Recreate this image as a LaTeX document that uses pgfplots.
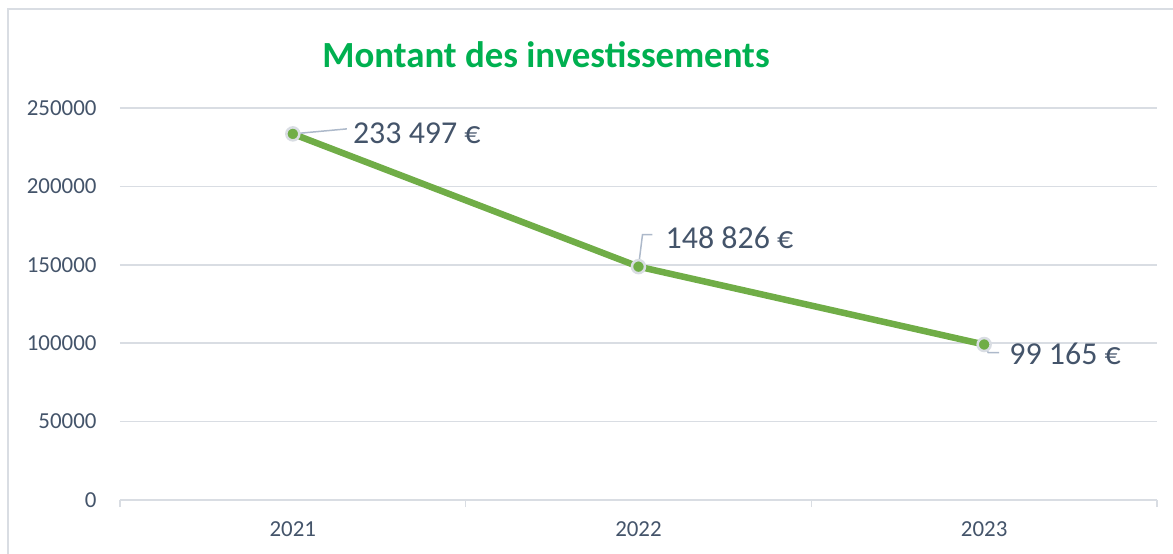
\documentclass[border=0pt]{standalone}
\usepackage{fontspec}
\setmainfont{Carlito}
\usepackage{pgfplots}
\pgfplotsset{compat=1.18}
\usepackage{pgfplotstable}
\definecolor{txt}{HTML}{44546A}
\definecolor{gridc}{HTML}{D9DDE3}
\definecolor{linec}{HTML}{70AD47}
\definecolor{titlec}{HTML}{00B050}
\definecolor{leader}{HTML}{ADB9CA}

\pgfplotstableread{
x y dx dy lab
0 233497 59 1 {233 497 €}
1 148826 26 29 {148 826 €}
2 99165 24 -9 {99 165 €}
}\invest

\begin{document}
\begin{tikzpicture}
\begin{axis}[
    at={(0,0)}, anchor=south west,
    scale only axis,
    width=1037bp, height=392bp,
    xmin=-0.5, xmax=2.5,
    ymin=0, ymax=250000,
    axis x line*=bottom, axis y line*=left,
    x axis line style={draw=gridc, line width=1.5bp},
    y axis line style={draw=none},
    xtick={0,1,2},
    xticklabels={2021,2022,2023},
    minor xtick={-0.5,0.5,1.5,2.5},
    major tick length=0pt,
    minor tick length=7bp,
    tick align=outside,
    minor tick style={draw=gridc, line width=1.5bp},
    ytick={0,50000,...,250000},
    scaled y ticks=false,
    ymajorgrids,
    grid style={draw=gridc, line width=1.5bp},
    major grid style={draw=gridc, line width=1.5bp},
    tick label style={font=\fontsize{23}{27}\selectfont, text=txt},
    /pgf/number format/assume math mode=true,
    /pgf/number format/fixed,
    /pgf/number format/1000 sep={},
    yticklabel style={xshift=-20bp},
    xticklabel style={yshift=-18bp},
    clip=false,
]
\addplot[
    color=linec, line width=6.5bp,
    mark=*, mark size=6.5bp,
    mark options={fill=linec, draw=gridc, line width=2.5bp},
    nodes near coords,
    point meta=explicit symbolic,
    visualization depends on={\thisrow{dx}\as\dx},
    visualization depends on={\thisrow{dy}\as\dy},
    every node near coord/.append style={
        anchor=west, inner sep=0pt, text=txt,
        font=\fontsize{32}{38}\selectfont,
        xshift=\dx bp, yshift=\dy bp},
] table[x=x, y=y, meta=lab] {\invest};
% leader lines
\draw[leader, line width=1.5bp] (axis cs:0,233497) -- ++(54bp,5bp);
\draw[leader, line width=1.5bp] (axis cs:1,148826) -- ++(4bp,32bp) -- ++(10bp,0bp);
\draw[leader, line width=1.5bp] (axis cs:2,99165) -- ++(4bp,-8bp) -- ++(11bp,0bp);
\end{axis}
\node[text=titlec, font=\fontsize{37}{44}\selectfont\bfseries] at (426bp,445bp) {Montant des investissements};
\draw[gridc, line width=1.5bp] (-112bp,-54bp) -- (-112bp,491bp) -- (1053bp,491bp);
\pgfresetboundingbox
\useasboundingbox (-120bp,-54bp) rectangle (1053bp,500bp);
\end{tikzpicture}
\end{document}
